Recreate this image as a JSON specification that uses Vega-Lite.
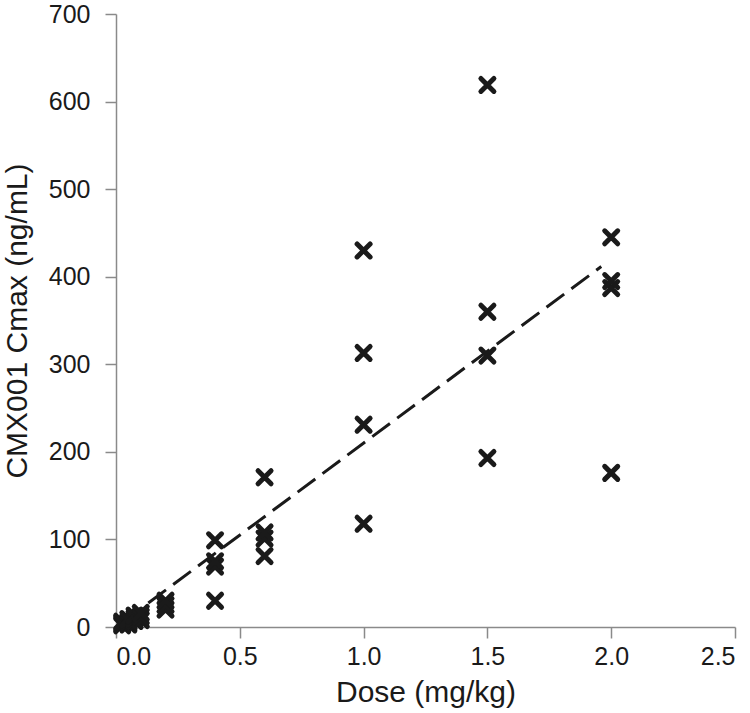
{
  "$schema": "https://vega.github.io/schema/vega-lite/v6.json",
  "autosize": {"type": "none"},
  "padding": {"left": 116, "top": 14, "right": 15, "bottom": 86},
  "width": 619,
  "height": 613,
  "background": "white",
  "config": {
    "view": {"stroke": null},
    "axis": {
      "grid": false,
      "domainColor": "#8a8a8a",
      "domainWidth": 1.5,
      "tickColor": "#8a8a8a",
      "tickWidth": 1.5,
      "tickSize": 11,
      "labelFont": "Liberation Sans",
      "labelFontSize": 25,
      "labelColor": "#1a1a1a",
      "titleFont": "Liberation Sans",
      "titleFontSize": 30,
      "titleFontWeight": "normal",
      "titleColor": "#1a1a1a"
    }
  },
  "datasets": {
    "pts": [
      {"dose": 0.025, "cmax": 2}, {"dose": 0.025, "cmax": 4}, {"dose": 0.025, "cmax": 6},
      {"dose": 0.05, "cmax": 3}, {"dose": 0.05, "cmax": 5}, {"dose": 0.05, "cmax": 6}, {"dose": 0.05, "cmax": 9},
      {"dose": 0.075, "cmax": 7}, {"dose": 0.075, "cmax": 10}, {"dose": 0.075, "cmax": 13},
      {"dose": 0.1, "cmax": 8}, {"dose": 0.1, "cmax": 12}, {"dose": 0.1, "cmax": 16},
      {"dose": 0.2, "cmax": 20}, {"dose": 0.2, "cmax": 25}, {"dose": 0.2, "cmax": 30},
      {"dose": 0.4, "cmax": 30}, {"dose": 0.4, "cmax": 69}, {"dose": 0.4, "cmax": 75}, {"dose": 0.4, "cmax": 99},
      {"dose": 0.6, "cmax": 81}, {"dose": 0.6, "cmax": 101}, {"dose": 0.6, "cmax": 108}, {"dose": 0.6, "cmax": 171},
      {"dose": 1.0, "cmax": 118}, {"dose": 1.0, "cmax": 231}, {"dose": 1.0, "cmax": 313}, {"dose": 1.0, "cmax": 430},
      {"dose": 1.5, "cmax": 193}, {"dose": 1.5, "cmax": 310}, {"dose": 1.5, "cmax": 360}, {"dose": 1.5, "cmax": 619},
      {"dose": 2.0, "cmax": 176}, {"dose": 2.0, "cmax": 387}, {"dose": 2.0, "cmax": 395}, {"dose": 2.0, "cmax": 445}
    ],
    "fit": [
      {"dose": 0.03, "cmax": 6.3},
      {"dose": 1.96, "cmax": 411.6}
    ]
  },
  "layer": [
    {
      "data": {"name": "fit"},
      "mark": {"type": "line", "color": "#1a1a1a", "strokeWidth": 3, "strokeDash": [22, 9]},
      "encoding": {
        "x": {"field": "dose", "type": "quantitative"},
        "y": {"field": "cmax", "type": "quantitative"}
      }
    },
    {
      "data": {"name": "pts"},
      "mark": {
        "type": "point",
        "shape": "M-1,-1L1,1M-1,1L1,-1",
        "size": 169,
        "filled": false,
        "stroke": "#1a1a1a",
        "strokeWidth": 5,
        "strokeCap": "round",
        "opacity": 1
      },
      "encoding": {
        "x": {
          "field": "dose", "type": "quantitative",
          "scale": {"domain": [0, 2.5], "nice": false, "zero": false},
          "axis": {"title": "Dose (mg/kg)", "values": [0, 0.5, 1, 1.5, 2, 2.5], "format": ".1f", "labelPadding": 6, "titlePadding": 8}
        },
        "y": {
          "field": "cmax", "type": "quantitative",
          "scale": {"domain": [0, 700], "nice": false},
          "axis": {"title": "CMX001 Cmax (ng/mL)", "values": [0, 100, 200, 300, 400, 500, 600, 700], "labelPadding": 15, "titleX": -84, "titleY": 306.5, "titleAngle": 270, "titleBaseline": "bottom", "titleAlign": "center"}
        }
      }
    }
  ]
}
